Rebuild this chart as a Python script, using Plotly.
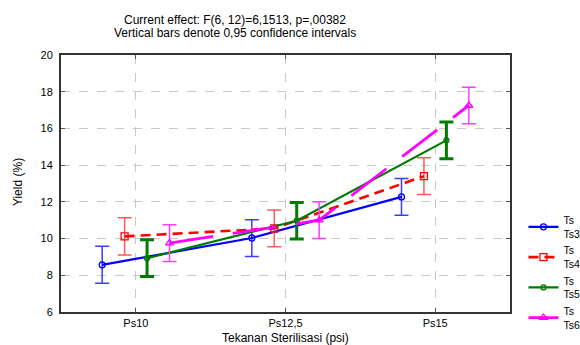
import plotly.graph_objects as go

categories = ["Ps10", "Ps12,5", "Ps15"]
series_names = ["Ts<br>Ts3", "Ts<br>Ts4", "Ts<br>Ts5", "Ts<br>Ts6"]
ts3 = [8.57, 10.03, 12.27]
ts4 = [10.12, 10.55, 13.40]
ts5 = [8.93, 10.97, 15.35]
ts6 = [9.75, 11.00, 17.25]
ci3 = [1.01, 1.0, 1.0]
ci4 = [1.01, 1.0, 1.0]
ci5 = [1.0, 1.0, 1.0]
ci6 = [1.0, 1.0, 1.0]

values = [ts3, ts4, ts5, ts6]
cis = [ci3, ci4, ci5, ci6]
offsets = [-0.225, -0.075, 0.075, 0.225]
line_colors = ["#0000ff", "#ff0000", "#007a00", "#ff00ff"]
err_colors = ["#3c3cff", "#ff5a5a", "#007a00", "#ff3cff"]
err_widths = [1.5, 1.5, 3, 1.5]
line_widths = [2.2, 2.6, 2.2, 2.8]
dashes = ["solid", "10px,6px", "solid", "44px,20px"]
symbols = ["circle-open", "square-open", "circle-open", "triangle-up-open"]
msizes = [6, 7, 5, 7]

fig = go.Figure()
for i in range(4):
    xs = [k + offsets[i] for k in range(len(categories))]
    fig.add_trace(go.Scatter(
        x=xs, y=values[i], name=series_names[i], mode="lines+markers",
        line=dict(color=line_colors[i], width=line_widths[i], dash=dashes[i]),
        marker=dict(symbol=symbols[i], size=msizes[i], color=line_colors[i],
                    line=dict(width=1.3, color=line_colors[i])),
        error_y=dict(type="data", array=cis[i], visible=True, color=err_colors[i],
                     thickness=err_widths[i], width=7),
    ))

fig.update_layout(
    width=580, height=345,
    margin=dict(l=61, r=70, t=55, b=33, autoexpand=False),
    paper_bgcolor="white", plot_bgcolor="white",
    font=dict(family="Liberation Sans, Arial, sans-serif", size=11, color="black"),
    showlegend=True,
    legend=dict(x=1.03, xanchor="left", y=0.41, yanchor="top",
                font=dict(size=10.5), tracegroupgap=0, itemwidth=30,
                bgcolor="rgba(0,0,0,0)"),
    xaxis=dict(range=[-0.5, 2.5], tickvals=[0, 1, 2], ticktext=categories,
               showgrid=True, gridcolor="#c8c8c8", griddash="dash", gridwidth=1,
               showline=True, linecolor="#333333", linewidth=2, mirror="ticks",
               ticks="inside", ticklen=4, tickcolor="#555555", zeroline=False),
    yaxis=dict(range=[6, 20], dtick=2, tick0=6,
               showgrid=True, gridcolor="#c8c8c8", griddash="dash", gridwidth=1,
               showline=True, linecolor="#333333", linewidth=2, mirror="ticks",
               ticks="inside", ticklen=4, tickcolor="#555555", zeroline=False,
               ticklabelstandoff=4),
    annotations=[
        dict(text="Current effect: F(6, 12)=6,1513, p=,00382", xref="paper", yref="paper",
             x=0.3875, y=1.136, showarrow=False, font=dict(size=12), xanchor="center", yanchor="middle"),
        dict(text="Vertical bars denote 0,95 confidence intervals", xref="paper", yref="paper",
             x=0.3875, y=1.086, showarrow=False, font=dict(size=12), xanchor="center", yanchor="middle"),
        dict(text="Tekanan Sterilisasi (psi)", xref="paper", yref="paper",
             x=0.5, y=-0.103, showarrow=False, font=dict(size=12), xanchor="center", yanchor="middle"),
        dict(text="Yield (%)", xref="paper", yref="paper", textangle=-90,
             x=-0.096, y=0.505, showarrow=False, font=dict(size=12), xanchor="center", yanchor="middle"),
    ],
)

fig.write_html("out.html")
